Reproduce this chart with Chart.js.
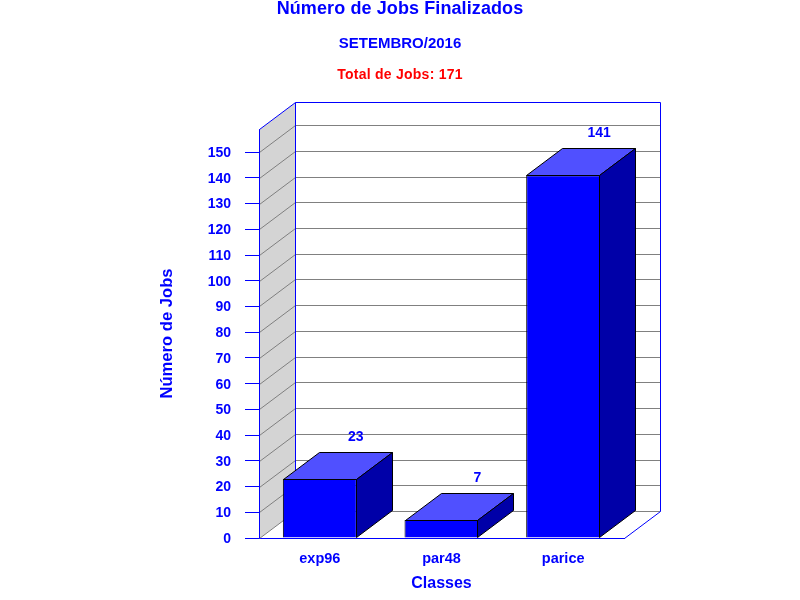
<!DOCTYPE html>
<html>
<head>
<meta charset="utf-8">
<title>Número de Jobs Finalizados</title>
<script src="https://cdn.jsdelivr.net/npm/chart.js@4"></script>
<style>
  body { margin: 0; background: #fff; }
  canvas { display: block; }
</style>
</head>
<body>
<canvas id="chart" width="800" height="600"></canvas>
<script>
const categories = ['exp96', 'par48', 'parice'];
const jobs = [23, 7, 141];
const yTicks = [0, 10, 20, 30, 40, 50, 60, 70, 80, 90, 100, 110, 120, 130, 140, 150];
const yMax = 159;

const fontFamily = '"Liberation Sans", Arial, sans-serif';
const BLUE = '#0000ff';
const DEPTH_X = 36;
const DEPTH_Y = 27;

function poly(ctx, pts, fill, stroke) {
  ctx.beginPath();
  pts.forEach((p, i) => (i ? ctx.lineTo(p[0], p[1]) : ctx.moveTo(p[0], p[1])));
  ctx.closePath();
  if (fill) {
    ctx.fillStyle = fill;
    ctx.fill();
  }
  if (stroke) {
    ctx.strokeStyle = stroke;
    ctx.lineWidth = 1;
    ctx.stroke();
  }
}

function line(ctx, x1, y1, x2, y2, color) {
  ctx.beginPath();
  ctx.moveTo(x1, y1);
  ctx.lineTo(x2, y2);
  ctx.strokeStyle = color;
  ctx.lineWidth = 1;
  ctx.stroke();
}

// Back wall, side wall and floor of the 3D box
const boxPlugin = {
  id: 'box3d',
  beforeDatasetsDraw(chart) {
    const { ctx, chartArea: a, scales: { y } } = chart;
    const l = a.left + 0.5, r = a.right + 0.5, t = a.top + 0.5, b = a.bottom + 0.5;
    ctx.save();
    poly(ctx, [[l, t], [l + DEPTH_X, t - DEPTH_Y], [l + DEPTH_X, b - DEPTH_Y], [l, b]], '#d4d4d4');
    yTicks.forEach(v => {
      const py = Math.round(y.getPixelForValue(v)) + 0.5;
      line(ctx, l, py, l + DEPTH_X, py - DEPTH_Y, '#808080');
      line(ctx, l + DEPTH_X, py - DEPTH_Y, r + DEPTH_X, py - DEPTH_Y, '#808080');
    });
    line(ctx, l, t, l + DEPTH_X, t - DEPTH_Y, BLUE);
    line(ctx, l + DEPTH_X, t - DEPTH_Y, r + DEPTH_X, t - DEPTH_Y, BLUE);
    line(ctx, l + DEPTH_X, t - DEPTH_Y, l + DEPTH_X, b - DEPTH_Y, BLUE);
    line(ctx, r + DEPTH_X, t - DEPTH_Y, r + DEPTH_X, b - DEPTH_Y, BLUE);
    line(ctx, r, b, r + DEPTH_X, b - DEPTH_Y, BLUE);
    line(ctx, l, t, l, b, BLUE);
    ctx.restore();
  },
  afterDatasetsDraw(chart) {
    const { ctx } = chart;
    ctx.save();
    chart.getDatasetMeta(0).data.forEach((bar, i) => {
      const x1 = Math.round(bar.x - bar.width / 2) + 0.5;
      const x2 = Math.round(bar.x + bar.width / 2) - 0.5;
      const top = Math.round(bar.y) + 0.5;
      const base = Math.round(bar.base) - 0.5;
      poly(ctx, [[x1, top], [x1 + DEPTH_X, top - DEPTH_Y], [x2 + DEPTH_X, top - DEPTH_Y], [x2, top]], '#5050ff', '#000');
      poly(ctx, [[x2, top], [x2 + DEPTH_X, top - DEPTH_Y], [x2 + DEPTH_X, base - DEPTH_Y], [x2, base]], '#0000a8', '#000');

      // Value above the top face
      ctx.fillStyle = BLUE;
      ctx.font = 'bold 14px ' + fontFamily;
      ctx.textAlign = 'center';
      ctx.textBaseline = 'middle';
      ctx.fillText(jobs[i], bar.x + DEPTH_X, bar.y - DEPTH_Y - 15);
    });
    ctx.restore();
  }
};

// Three stacked headings, the last one in red
const headingPlugin = {
  id: 'headings',
  afterDraw(chart) {
    const { ctx } = chart;
    ctx.save();
    ctx.textAlign = 'center';
    ctx.textBaseline = 'middle';
    ctx.fillStyle = BLUE;
    ctx.font = 'bold 18px ' + fontFamily;
    ctx.letterSpacing = '0.1px';
    ctx.fillText('Número de Jobs Finalizados', 400, 9);
    ctx.font = 'bold 15px ' + fontFamily;
    ctx.letterSpacing = '0px';
    ctx.fillText('SETEMBRO/2016', 400, 44);
    ctx.fillStyle = '#ff0000';
    ctx.font = 'bold 14px ' + fontFamily;
    ctx.letterSpacing = '0.25px';
    ctx.fillText('Total de Jobs: 171', 400, 75);
    ctx.restore();
  }
};

new Chart(document.getElementById('chart').getContext('2d'), {
  type: 'bar',
  data: {
    labels: categories,
    datasets: [{
      data: jobs,
      backgroundColor: BLUE,
      borderColor: '#000',
      borderWidth: 1,
      barPercentage: 0.608,
      categoryPercentage: 1
    }]
  },
  options: {
    responsive: false,
    animation: false,
    devicePixelRatio: 1,
    layout: { padding: { top: 129, right: 176, left: 0, bottom: 0 } },
    plugins: {
      legend: { display: false },
      tooltip: { enabled: false }
    },
    scales: {
      x: {
        grid: { drawOnChartArea: false, drawTicks: false },
        border: { color: BLUE },
        ticks: {
          color: BLUE,
          padding: 12,
          maxRotation: 0,
          font: { family: fontFamily, size: 14.5, weight: 'bold' }
        },
        title: {
          display: true,
          text: 'Classes',
          color: BLUE,
          padding: 7,
          font: { family: fontFamily, size: 16, weight: 'bold' }
        },
        afterFit(scale) { scale.height = 62; }
      },
      y: {
        min: 0,
        max: yMax,
        grid: { drawOnChartArea: false, drawTicks: true, tickLength: 14, tickColor: BLUE },
        border: { color: BLUE },
        ticks: {
          color: BLUE,
          padding: 14,
          labelOffset: 1,
          autoSkip: false,
          font: { family: fontFamily, size: 14, weight: 'bold' }
        },
        afterBuildTicks(axis) { axis.ticks = yTicks.map(v => ({ value: v })); },
        title: {
          display: true,
          text: 'Número de Jobs',
          color: BLUE,
          padding: 157,
          font: { family: fontFamily, size: 16.6, weight: 'bold' }
        },
        afterFit(scale) { scale.width = 259; }
      }
    }
  },
  plugins: [boxPlugin, headingPlugin]
});
</script>
</body>
</html>
